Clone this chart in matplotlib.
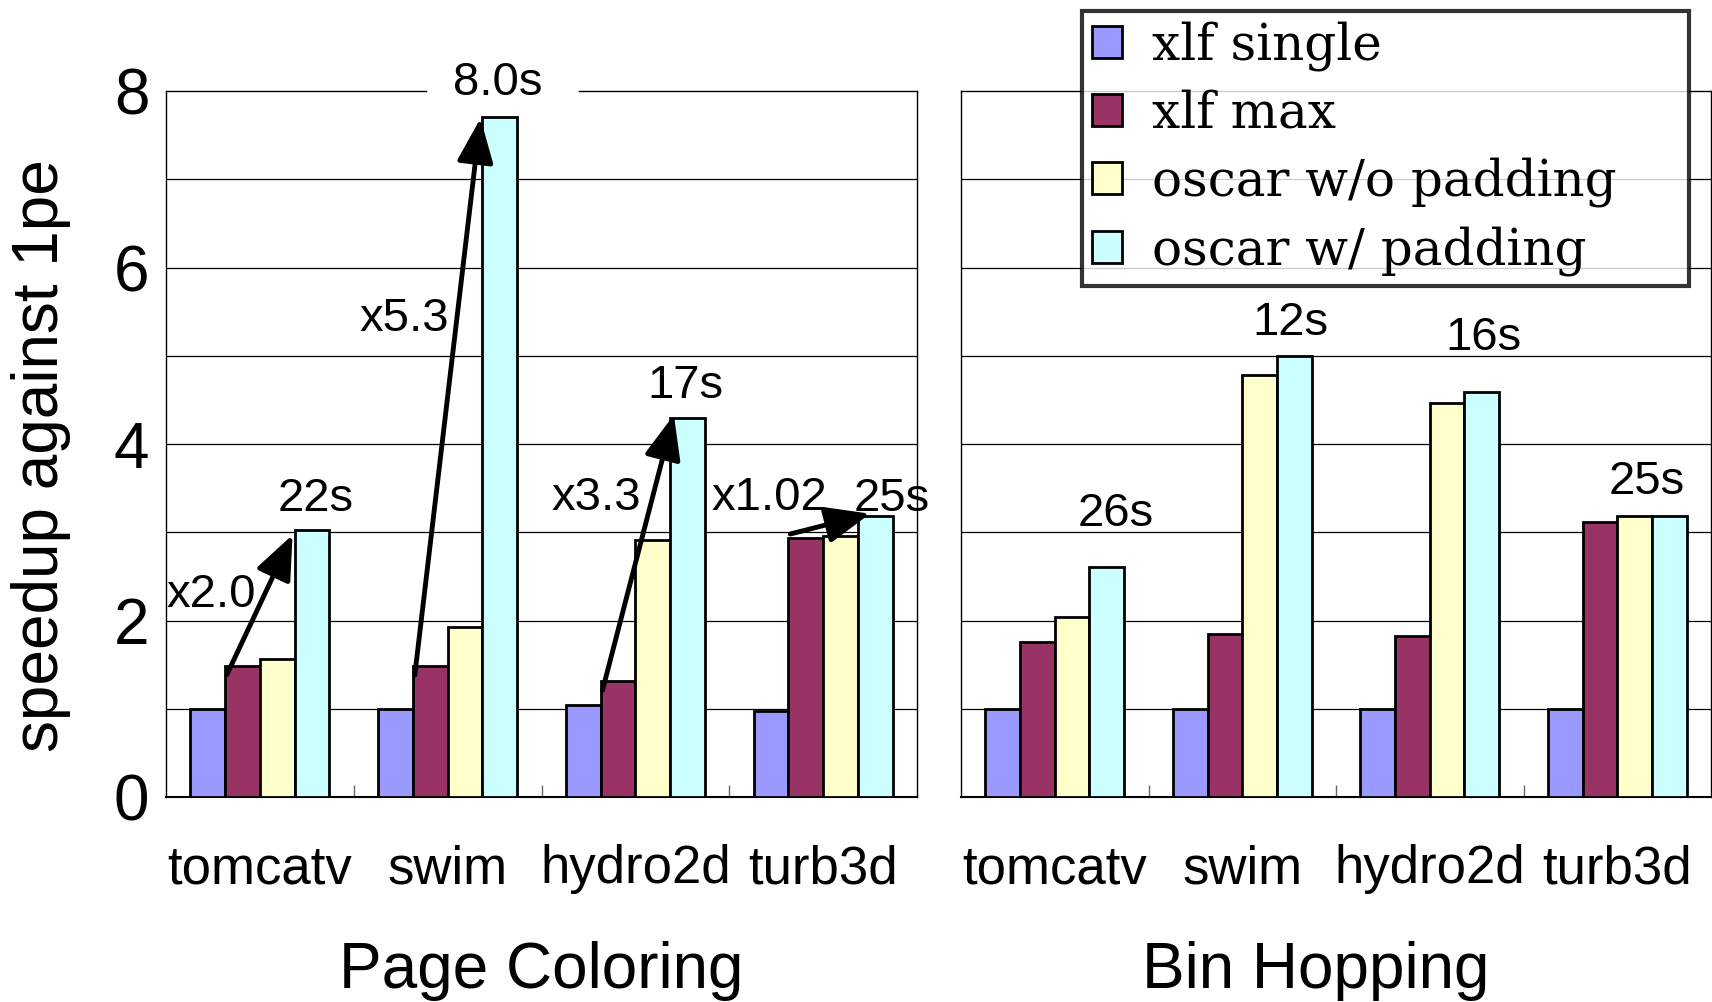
import numpy as np
import matplotlib
matplotlib.use('Agg')
import matplotlib.pyplot as plt

plt.rcParams['font.family'] = ['Liberation Sans', 'DejaVu Sans']

# данные
benchmarks = ['tomcatv', 'swim', 'hydro2d', 'turb3d']
series = ['xlf single', 'xlf max', 'oscar w/o padding', 'oscar w/ padding']
colors = ['#9999FF', '#993366', '#FFFFCC', '#CCFFFF']

page_single = [1.00, 1.00, 1.04, 0.98]
page_max = [1.48, 1.48, 1.32, 2.93]
page_nopad = [1.56, 1.93, 2.91, 2.96]
page_pad = [3.03, 7.71, 4.30, 3.18]

bin_single = [1.00, 1.00, 1.00, 1.00]
bin_max = [1.76, 1.85, 1.82, 3.12]
bin_nopad = [2.04, 4.78, 4.46, 3.18]
bin_pad = [2.61, 5.00, 4.59, 3.18]

page_times = ['22s', '8.0s', '17s', '25s']
bin_times = ['26s', '12s', '16s', '25s']
page_gain = ['x2.0', 'x5.3', 'x3.3', 'x1.02']

# смещения подписей (dx, dy от верха последнего столбца)
page_time_off = [(0.02, 0.21), (-0.01, 0.25), (-0.01, 0.22), (0.09, 0.06)]
bin_time_off = [(0.05, 0.46), (-0.02, 0.23), (0.01, 0.48), (-0.12, 0.25)]
gain_pos = [(0.24, 2.29), (1.27, 5.42), (2.29, 3.39), (3.215, 3.39)]
# стрелки: (dy начала, dx конца, dy конца)
arrow_off = [(-0.09, -0.011, -0.06), (-0.10, -0.01, -0.02),
             (-0.11, 0.02, 0.03), (0.05, 0.065, 0.03)]

W = 0.185


def draw_panel(ax, vals, title, title_x):
    x = np.arange(len(benchmarks)) + 0.5
    for k, v in enumerate(vals):
        ax.bar(x + (k - 1.5) * W, v, W, color=colors[k], edgecolor='black',
               linewidth=2, label=series[k], zorder=3)
    ax.set_xlim(0, 4)
    ax.set_ylim(0, 8)
    for g in range(1, 8):
        ax.axhline(g, color='black', lw=0.9, zorder=1)
    ax.set_xticks([1, 2, 3])
    ax.set_xticklabels([])
    ax.tick_params(axis='x', direction='in', length=9, width=1, color='#666666')
    ax.set_xticks(x, minor=True)
    ax.set_xticklabels(benchmarks, minor=True, fontsize=38)
    ax.tick_params(axis='x', which='minor', length=0, pad=34)
    for s in ax.spines.values():
        s.set_linewidth(1.0)
    ax.spines['bottom'].set_linewidth(1.5)
    ax.text(title_x, -0.247, title, transform=ax.transAxes, fontsize=46,
            ha='center', va='center')
    return x


fig = plt.figure(figsize=(17.12, 10.02), dpi=100)
ax1 = fig.add_axes([166 / 1712, 205 / 1002, 751 / 1712, 706 / 1002])
ax2 = fig.add_axes([961 / 1712, 205 / 1002, 750 / 1712, 706 / 1002])

page = [page_single, page_max, page_nopad, page_pad]
binh = [bin_single, bin_max, bin_nopad, bin_pad]

x = draw_panel(ax1, page, 'Page Coloring', 0.5)
draw_panel(ax2, binh, 'Bin Hopping', 0.473)

ax1.set_yticks([0, 2, 4, 6, 8])
ax1.tick_params(axis='y', length=0, pad=12, labelsize=46)
ax2.set_yticks([])

# разрыв верхней рамки под подписью 8.0s
ax1.spines['top'].set_visible(False)
ax1.plot([0, 0.346], [1, 1], color='black', lw=1.0, transform=ax1.transAxes, clip_on=False)
ax1.plot([0.55, 1], [1, 1], color='black', lw=1.0, transform=ax1.transAxes, clip_on=False)

# подписи времени
for i in range(4):
    xc = x[i] + 1.5 * W
    ax1.text(xc + page_time_off[i][0], page_pad[i] + page_time_off[i][1], page_times[i],
             fontsize=34, ha='center', va='baseline', clip_on=False, zorder=5)
    ax2.text(xc + bin_time_off[i][0], bin_pad[i] + bin_time_off[i][1], bin_times[i],
             fontsize=34, ha='center', va='baseline', clip_on=False, zorder=5)

# стрелки ускорения
for i in range(4):
    sdy, edx, edy = arrow_off[i]
    start = (x[i] - W + 0.01, page_max[i] + sdy)
    end = (x[i] + W + edx, page_pad[i] + edy)
    ax1.annotate('', xy=end, xytext=start,
                 arrowprops=dict(arrowstyle='-|>,head_length=0.8,head_width=0.33',
                                 mutation_scale=34, lw=3.5, color='black',
                                 shrinkA=0, shrinkB=0), zorder=6)
    ax1.text(gain_pos[i][0], gain_pos[i][1], page_gain[i], fontsize=34,
             ha='center', va='center', zorder=6)

fig.text(41 / 1712, 1 - 456 / 1002, 'speedup against 1pe', rotation=90,
         fontsize=46, ha='center', va='center')

leg = ax2.legend(loc='upper left',
                 bbox_to_anchor=(1082 / 1712, 1 - 286 / 1002, 607 / 1712, 275 / 1002),
                 bbox_transform=fig.transFigure, mode='expand', frameon=True, fancybox=False,
                 prop={'family': 'DejaVu Serif', 'size': 36},
                 handlelength=0.6, handleheight=0.6, handletextpad=0.6,
                 labelspacing=0.37, borderpad=0.2, borderaxespad=0)
leg.get_frame().set_edgecolor('black')
leg.get_frame().set_linewidth(3)
leg.set_zorder(10)

fig.savefig('out.png', dpi=100)
